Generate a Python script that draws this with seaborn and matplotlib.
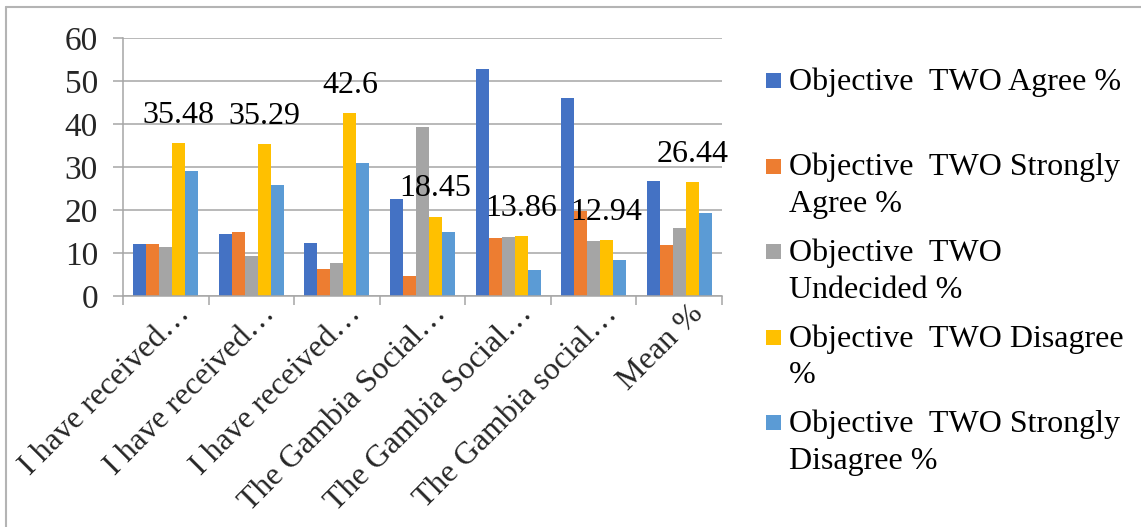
import matplotlib
matplotlib.use("Agg")
import matplotlib.pyplot as plt
from matplotlib.lines import Line2D
from matplotlib.patches import Rectangle
import matplotlib.transforms as mtransforms
import numpy as np
import pandas as pd
import seaborn as sns

# ---- data -------------------------------------------------------------
categories = [
    "I have received…",
    "I have received…",
    "I have received…",
    "The Gambia Social…",
    "The Gambia Social…",
    "The Gambia social…",
    "Mean %",
]
series = [
    "Objective  TWO Agree %",
    "Objective  TWO Strongly Agree %",
    "Objective  TWO Undecided %",
    "Objective  TWO Disagree %",
    "Objective  TWO Strongly Disagree %",
]
agree = [12.0, 14.4, 12.4, 22.6, 52.7, 46.1, 26.7]
strongly_agree = [12.0, 14.8, 6.2, 4.7, 13.6, 19.7, 11.8]
undecided = [11.4, 9.4, 7.7, 39.2, 13.8, 12.9, 15.7]
disagree = [35.48, 35.29, 42.6, 18.45, 13.86, 12.94, 26.44]
strongly_disagree = [29.0, 25.9, 31.0, 14.9, 6.0, 8.3, 19.2]
yticks = [0, 10, 20, 30, 40, 50, 60]

# legend text as it wraps in the side panel
legend_lines = [
    ["Objective  TWO Agree %"],
    ["Objective  TWO Strongly", "Agree %"],
    ["Objective  TWO", "Undecided %"],
    ["Objective  TWO Disagree", "%"],
    ["Objective  TWO Strongly", "Disagree %"],
]

colors = ["#4472C4", "#ED7D31", "#A5A5A5", "#FFC000", "#5B9BD5"]
grid_color = "#A6A6A6"

# ---- long-form table ---------------------------------------------------
values = [agree, strongly_agree, undecided, disagree, strongly_disagree]
pos_labels = [f"{i}" for i in range(len(categories))]
rows = []
for s, vals in zip(series, values):
    for pos, v in zip(pos_labels, vals):
        rows.append({"pos": pos, "series": s, "value": v})
df = pd.DataFrame(rows)

# ---- figure ------------------------------------------------------------
sns.set_theme(style="white")
plt.rcParams["font.family"] = ["Liberation Serif", "DejaVu Serif"]

W, H = 1141, 527
fig = plt.figure(figsize=(W / 100, H / 100), dpi=100)
ax = fig.add_axes([123 / W, 1 - 296 / H, (722 - 123) / W, (296 - 38) / H])

sns.barplot(
    data=df, x="pos", y="value", hue="series", order=pos_labels,
    hue_order=series, palette=colors, width=0.76, gap=0,
    saturation=1, legend=False, ax=ax, errorbar=None, linewidth=0,
)

ax.set_xlim(-0.5, len(categories) - 0.5)
ax.set_ylim(0, 60)
ax.set_yticks(yticks)
ax.set_yticklabels([str(t) for t in yticks], fontsize=24)
ax.set_xlabel("")
ax.set_ylabel("")

# horizontal gridlines
ax.yaxis.grid(True, color=grid_color, linewidth=1.1)
ax.xaxis.grid(False)
ax.set_axisbelow(True)

for side in ["top", "right"]:
    ax.spines[side].set_visible(False)
for side in ["left", "bottom"]:
    ax.spines[side].set_color(grid_color)
    ax.spines[side].set_linewidth(1.1)

ax.tick_params(axis="y", which="major", direction="out", length=7,
               width=1.1, color=grid_color, pad=11, left=True)

# category labels at centers, tick marks at category boundaries
ax.set_xticks(range(len(categories)))
ax.set_xticklabels(categories, fontsize=23, rotation=45, ha="right",
                   va="center", rotation_mode="anchor")
ax.tick_params(axis="x", which="major", length=0, pad=10)
ax.set_xticks(np.arange(-0.5, len(categories), 1.0), minor=True)
ax.tick_params(axis="x", which="minor", direction="out", length=6.5,
               width=1.1, color=grid_color, bottom=True)
for lbl in ax.get_xticklabels():
    lbl.set_transform(lbl.get_transform() +
                      mtransforms.ScaledTranslation(14 / 72, 0, fig.dpi_scale_trans))

# value labels on the Disagree bars
disagree_bars = ax.containers[3]
for bar, v in zip(disagree_bars, disagree):
    ax.annotate(f"{v:g}", xy=(bar.get_x() + bar.get_width() / 2, v),
                xytext=(0, 20), textcoords="offset points",
                ha="center", va="center", fontsize=23, color="black")

# side legend
base_y = [90, 175.5, 261, 346.5, 432]
line_gap = 36.7
for color, lines, by in zip(colors, legend_lines, base_y):
    fig.patches.append(Rectangle((766 / W, 1 - (by - 2) / H), 15 / W, 15 / H,
                                 transform=fig.transFigure, color=color,
                                 linewidth=0))
    for k, line in enumerate(lines):
        fig.text(789 / W, 1 - (by + k * line_gap) / H, line, fontsize=23,
                 ha="left", va="baseline", color="black")

# chart frame (top and left edges)
fig.add_artist(Line2D([6 / W, 1], [1 - 7 / H, 1 - 7 / H], transform=fig.transFigure,
                      color="#B4B4B4", linewidth=1.5))
fig.add_artist(Line2D([6 / W, 6 / W], [0, 1 - 7 / H], transform=fig.transFigure,
                      color="#B4B4B4", linewidth=1.5))

fig.savefig("out.png", dpi=100)
